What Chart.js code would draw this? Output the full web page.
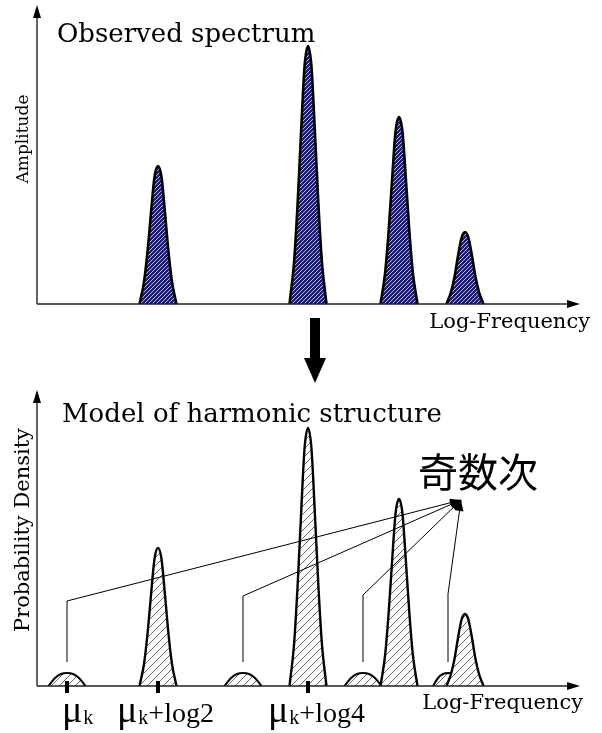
<!DOCTYPE html>
<html>
<head>
<meta charset="utf-8">
<script src="https://cdn.jsdelivr.net/npm/chart.js@4"></script>
<style>
    html, body { margin: 0; padding: 0; background: #fff; }
    #wrap { position: relative; width: 602px; height: 733px; }
    #wrap canvas { position: absolute; left: 0; }
    #observed { top: 0; }
    #model { top: 385px; }
</style>
</head>
<body>
<div id="wrap">
    <canvas id="observed" width="602" height="385"></canvas>
    <canvas id="model" width="602" height="348"></canvas>
</div>
<script>
// harmonic peaks, [log-frequency, amplitude]
var peak1 = [[10.25, 0], [10.7, 0.22], [11.05, 0.52], [11.4, 0.91], [11.75, 1.27], [12.1, 1.38], [12.45, 1.27], [12.8, 0.91], [13.15, 0.52], [13.5, 0.22], [13.95, 0]];
var peak2 = [[25.25, 0], [25.7, 0.41], [26.05, 0.98], [26.4, 1.70], [26.75, 2.37], [27.1, 2.58], [27.45, 2.37], [27.8, 1.70], [28.15, 0.98], [28.5, 0.41], [28.95, 0]];
var peak3 = [[34.35, 0], [34.8, 0.30], [35.15, 0.71], [35.5, 1.23], [35.85, 1.72], [36.2, 1.87], [36.55, 1.72], [36.9, 1.23], [37.25, 0.71], [37.6, 0.30], [38.05, 0]];
var peak4 = [[40.95, 0], [41.4, 0.12], [41.75, 0.27], [42.1, 0.48], [42.45, 0.66], [42.8, 0.72], [43.15, 0.66], [43.5, 0.48], [43.85, 0.27], [44.2, 0.12], [44.65, 0]];

// odd-order components of the model (small bumps)
var odd1 = [[1.15, 0], [1.8, 0.08], [2.4, 0.12], [3.0, 0.13], [3.6, 0.12], [4.2, 0.08], [4.85, 0]];
var odd2 = [[18.75, 0], [19.4, 0.08], [20.0, 0.12], [20.6, 0.13], [21.2, 0.12], [21.8, 0.08], [22.45, 0]];
var odd3 = [[30.75, 0], [31.4, 0.08], [32.0, 0.12], [32.6, 0.13], [33.2, 0.12], [33.8, 0.08], [34.45, 0]];
var odd4 = [[39.6, 0], [40.1, 0.08], [40.6, 0.12], [41.1, 0.13], [41.6, 0.12], [42.1, 0.08], [42.6, 0]];

// marked positions on the model axis
var tickValues = [3.0, 12.1, 27.1];
var tickSuffix = ['', '+log2', '+log4'];
var oddLabel = '奇数次';

function hatch(bg, fg, size, lw) {
    var c = document.createElement('canvas');
    c.width = size;
    c.height = size;
    var g = c.getContext('2d');
    g.fillStyle = bg;
    g.fillRect(0, 0, size, size);
    g.strokeStyle = fg;
    g.lineWidth = lw;
    g.beginPath();
    g.moveTo(-1, size + 1); g.lineTo(size + 1, -1);
    g.moveTo(-1, 1); g.lineTo(1, -1);
    g.moveTo(size - 1, size + 1); g.lineTo(size + 1, size - 1);
    g.stroke();
    return g.createPattern(c, 'repeat');
}

function peakSet(points, fill, lw) {
    return {
        data: points,
        fill: 'origin',
        backgroundColor: fill,
        borderColor: '#000',
        borderWidth: lw,
        pointRadius: 0,
        cubicInterpolationMode: 'monotone'
    };
}

function drawAxes(chart) {
    var ctx = chart.ctx;
    var x = chart.scales.x, y = chart.scales.y;
    var x0 = x.getPixelForValue(0), y0 = y.getPixelForValue(0);
    ctx.save();
    ctx.strokeStyle = '#222';
    ctx.fillStyle = '#000';
    ctx.lineWidth = 1.4;
    ctx.beginPath();
    ctx.moveTo(x0, y0); ctx.lineTo(x.right - 8, y0);
    ctx.moveTo(x0, y0); ctx.lineTo(x0, y.top + 8);
    ctx.stroke();
    ctx.beginPath();
    ctx.moveTo(x.right, y0); ctx.lineTo(x.right - 13, y0 - 4); ctx.lineTo(x.right - 13, y0 + 4);
    ctx.closePath();
    ctx.fill();
    ctx.beginPath();
    ctx.moveTo(x0, y.top); ctx.lineTo(x0 - 4, y.top + 13); ctx.lineTo(x0 + 4, y.top + 13);
    ctx.closePath();
    ctx.fill();
    ctx.restore();
}

function vText(ctx, txt, cx, cy, font) {
    ctx.save();
    ctx.translate(cx, cy);
    ctx.rotate(-Math.PI / 2);
    ctx.font = font;
    ctx.textAlign = 'center';
    ctx.textBaseline = 'middle';
    ctx.fillText(txt, 0, 0);
    ctx.restore();
}

var observedDecor = {
    id: 'observedDecor',
    afterDatasetsDraw: function (chart) {
        var ctx = chart.ctx, area = chart.chartArea;
        var y0 = chart.scales.y.getPixelForValue(0);
        drawAxes(chart);
        ctx.save();
        ctx.fillStyle = '#000';
        ctx.font = '26px "DejaVu Serif"';
        ctx.fillText('Observed spectrum', area.left + 20, area.top + 37);
        ctx.font = '21px "DejaVu Serif"';
        ctx.textAlign = 'right';
        ctx.fillText('Log-Frequency', area.right + 10, y0 + 24);
        vText(ctx, 'Amplitude', 24, area.top + 134, '17px "DejaVu Serif"');

        // arrow down to the model
        var ax = chart.scales.x.getPixelForValue(27.8);
        ctx.fillRect(ax - 5, y0 + 14, 10, 40);
        ctx.beginPath();
        ctx.moveTo(ax - 11, y0 + 54);
        ctx.lineTo(ax + 11, y0 + 54);
        ctx.lineTo(ax, y0 + 79);
        ctx.closePath();
        ctx.fill();
        ctx.restore();
    }
};

var modelDecor = {
    id: 'modelDecor',
    afterDatasetsDraw: function (chart) {
        var ctx = chart.ctx, area = chart.chartArea;
        var x = chart.scales.x, y = chart.scales.y;
        var y0 = y.getPixelForValue(0);
        drawAxes(chart);
        ctx.save();
        ctx.fillStyle = '#000';
        ctx.strokeStyle = '#000';
        ctx.font = '26px "DejaVu Serif"';
        ctx.fillText('Model of harmonic structure', area.left + 25, area.top + 32);
        ctx.font = '21px "DejaVu Serif"';
        ctx.textAlign = 'right';
        ctx.fillText('Log-Frequency', area.right + 3, y0 + 23);
        ctx.textAlign = 'left';
        vText(ctx, 'Probability Density', 24, area.top + 140, '21px "DejaVu Serif"');

        // tick marks and mu labels
        var shift = [-5, -41, -40];
        tickValues.forEach(function (v, i) {
            var px = x.getPixelForValue(v);
            ctx.fillRect(px - 2, y0 - 5, 4, 12);
            var tx = px + shift[i];
            ctx.font = '38px "Liberation Serif"';
            ctx.fillText('μ', tx, y0 + 36);
            tx += ctx.measureText('μ').width + 1;
            ctx.font = '20px "Liberation Serif"';
            ctx.fillText('k', tx, y0 + 38);
            tx += ctx.measureText('k').width;
            ctx.font = '28px "Liberation Serif"';
            ctx.fillText(tickSuffix[i], tx, y0 + 36);
        });

        // leader lines from odd components to the label
        var tipX = x.getPixelForValue(42.4), tipY = y.getPixelForValue(1.86);
        var knees = [0.85, 0.90, 0.91, 0.92];
        [odd1, odd2, odd3, odd4].forEach(function (b, i) {
            var px = x.getPixelForValue(b[3][0]);
            var ky = y.getPixelForValue(knees[i]);
            ctx.lineWidth = 1;
            ctx.beginPath();
            ctx.moveTo(px, y.getPixelForValue(0.24));
            ctx.lineTo(px, ky);
            ctx.lineTo(tipX, tipY);
            ctx.stroke();
            var a = Math.atan2(tipY - ky, tipX - px);
            ctx.beginPath();
            ctx.moveTo(tipX, tipY);
            ctx.lineTo(tipX - 11 * Math.cos(a) + 4 * Math.sin(a), tipY - 11 * Math.sin(a) - 4 * Math.cos(a));
            ctx.lineTo(tipX - 11 * Math.cos(a) - 4 * Math.sin(a), tipY - 11 * Math.sin(a) + 4 * Math.cos(a));
            ctx.closePath();
            ctx.fill();
        });
        ctx.font = '40px "Noto Sans CJK JP"';
        ctx.textBaseline = 'middle';
        ctx.fillText(oddLabel, tipX - 43, tipY - 28);
        ctx.restore();
    }
};

function baseOptions(ymax, pad) {
    return {
        responsive: false,
        animation: false,
        devicePixelRatio: 1,
        layout: { padding: pad },
        plugins: {
            legend: { display: false },
            tooltip: { enabled: false }
        },
        scales: {
            x: { type: 'linear', min: 0, max: 54.3, display: false },
            y: { type: 'linear', min: 0, max: ymax, display: false }
        }
    };
}

var navy = hatch('#1f1f6e', '#b4b4e4', 4, 1);
var lines = hatch('#ffffff', '#666666', 8, 1);

new Chart(document.getElementById('observed'), {
    type: 'line',
    data: {
        datasets: [peak1, peak2, peak3, peak4].map(function (p) { return peakSet(p, navy, 2.6); })
    },
    options: baseOptions(2.99, { left: 37, right: 22, top: 5, bottom: 81 }),
    plugins: [observedDecor]
});

new Chart(document.getElementById('model'), {
    type: 'line',
    data: {
        datasets: [peak1, peak2, peak3, peak4].map(function (p) { return peakSet(p, lines, 2.4); })
            .concat([odd1, odd2, odd3, odd4].map(function (p) { return peakSet(p, lines, 2); }))
    },
    options: baseOptions(2.96, { left: 37, right: 22, top: 5, bottom: 47 }),
    plugins: [modelDecor]
});
</script>
</body>
</html>
